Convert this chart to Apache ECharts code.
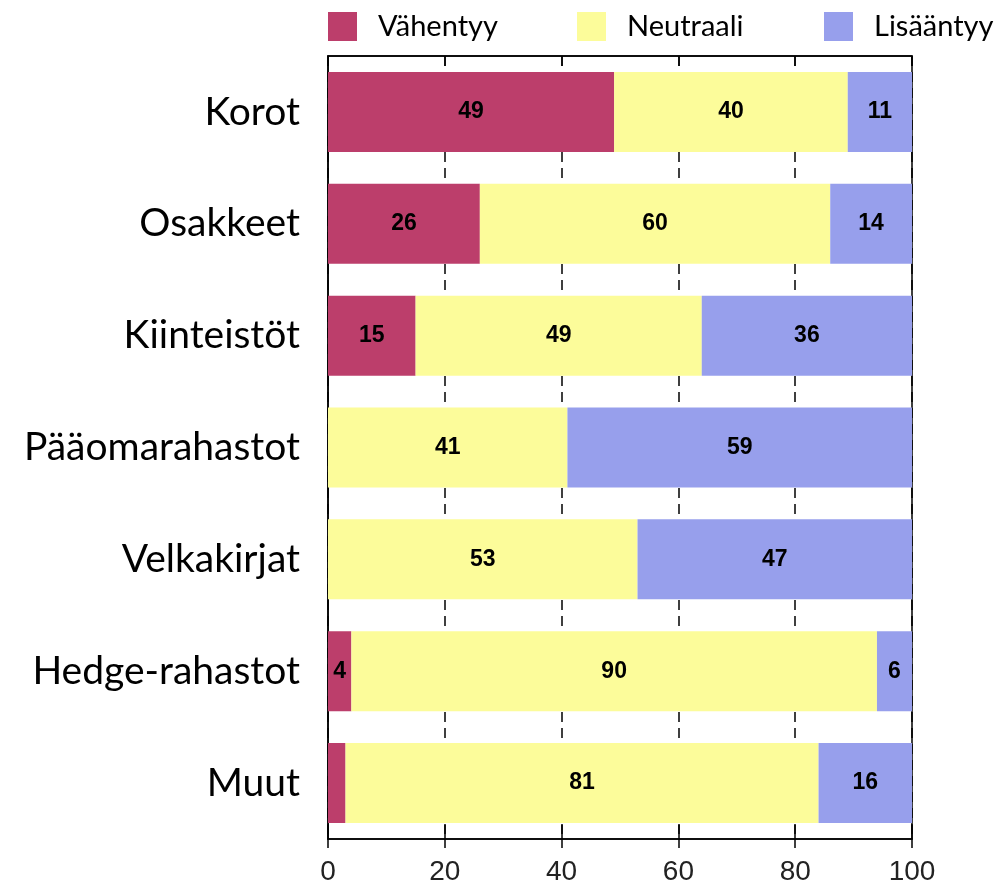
<!DOCTYPE html>
<html lang="fi">
  <head>
    <meta charset="UTF-8" />
    <title>Muutos</title>
    <script src="https://cdn.jsdelivr.net/npm/echarts@6/dist/echarts.min.js"></script>
    <style>
      body { margin: 0; background: #fff; }
    </style>
  </head>
  <body>
    <div id="main" style="width: 995px; height: 886px"></div>
    <script type="text/javascript">
      // categories top to bottom
      const categories = ["Korot", "Osakkeet", "Kiinteistöt", "Pääomarahastot", "Velkakirjat", "Hedge-rahastot", "Muut"];
      const vahentyy = [49, 26, 15, 0, 0, 4, 3];
      const neutraali = [40, 60, 49, 41, 53, 90, 81];
      const lisaantyy = [11, 14, 36, 59, 47, 6, 16];
      const xTicks = [0, 20, 40, 60, 80, 100];

      const seriesNames = ["Vähentyy", "Neutraali", "Lisääntyy"];
      const colors = ["#bc3e6b", "#fcfc9a", "#979fec"];
      const legendLeft = [328, 577, 824];

      const labelStyle = {
        show: true,
        position: "inside",
        color: "#000",
        fontFamily: "Liberation Sans",
        fontWeight: "bold",
        fontSize: 23,
        // tiny segments get no number
        formatter: (p) => (p.value >= 4 ? p.value : ""),
      };

      const makeSeries = (name, data, i) => ({
        name: name,
        type: "bar",
        stack: "total",
        barWidth: 80,
        data: data,
        itemStyle: { color: colors[i] },
        label: labelStyle,
      });

      let options = {
        animation: false,
        legend: seriesNames.map((n, i) => ({
          data: [n],
          left: legendLeft[i],
          top: 12,
          padding: 0,
          itemWidth: 29,
          itemHeight: 29,
          icon: "rect",
          textStyle: { fontFamily: "Lato", fontSize: 29, color: "#000", padding: [0, 0, 0, 16] },
        })),
        grid: {
          left: 328,
          right: 83,
          top: 56,
          bottom: 45,
          show: true,
          borderColor: "#000",
          borderWidth: 1.5,
        },
        xAxis: [
          {
            type: "value",
            min: 0,
            max: 100,
            interval: 20,
            position: "bottom",
            axisLine: { show: true, lineStyle: { color: "#000", width: 1.5 } },
            axisTick: { show: true, length: 9, lineStyle: { color: "#000", width: 1.5 } },
            axisLabel: {
              fontFamily: "Liberation Sans",
              fontSize: 28,
              color: "#222",
              margin: 19,
              formatter: (v) => (xTicks.includes(v) ? v : ""),
            },
            splitLine: { show: true, lineStyle: { color: "#000", type: [10, 6], width: 1.5 } },
          },
          {
            type: "value",
            min: 0,
            max: 100,
            interval: 20,
            position: "bottom",
            axisLine: { show: false },
            axisTick: { show: true, inside: true, length: 14, lineStyle: { color: "#000", width: 1.5 } },
            axisLabel: { show: false },
            splitLine: { show: false },
          },
          {
            type: "value",
            min: 0,
            max: 100,
            interval: 20,
            position: "top",
            axisLine: { show: true, lineStyle: { color: "#000", width: 1.5 } },
            axisTick: { show: true, inside: true, length: 10, lineStyle: { color: "#000", width: 1.5 } },
            axisLabel: { show: false },
            splitLine: { show: false },
          },
        ],
        yAxis: {
          type: "category",
          inverse: true,
          data: categories,
          axisLine: { show: true, lineStyle: { color: "#000", width: 1.5 } },
          axisTick: { show: false },
          axisLabel: { fontFamily: "Lato", fontSize: 39, color: "#000", margin: 28 },
        },
        series: [
          makeSeries(seriesNames[0], vahentyy, 0),
          makeSeries(seriesNames[1], neutraali, 1),
          makeSeries(seriesNames[2], lisaantyy, 2),
        ],
      };

      let myChart = echarts.init(document.getElementById("main"));
      myChart.setOption(options);
    </script>
  </body>
</html>
